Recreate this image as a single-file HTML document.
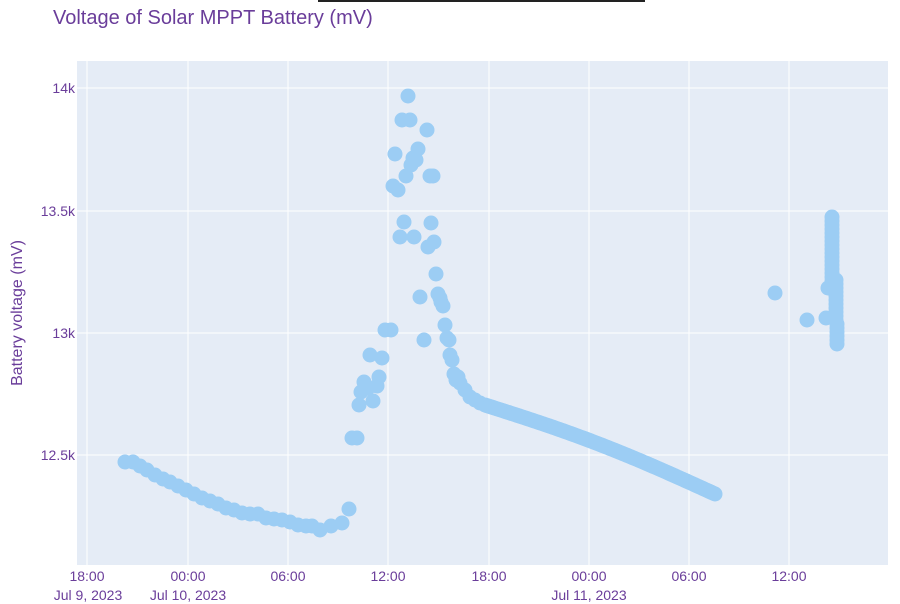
<!DOCTYPE html>
<html><head><meta charset="utf-8"><style>
body{margin:0;background:#fff;width:900px;height:604px;overflow:hidden;font-family:"Liberation Sans",sans-serif}
</style></head><body>
<svg id="s" width="900" height="604" xmlns="http://www.w3.org/2000/svg" style="position:absolute;left:0;top:0">
<rect x="318" y="0" width="327" height="2" fill="#222"/>
<text x="53" y="24" font-size="20" fill="#6a3d9a" font-family="Liberation Sans, sans-serif">Voltage of Solar MPPT Battery (mV)</text>
<rect x="77" y="61" width="811" height="504" fill="#e5ecf6"/>
<g stroke="#fff" stroke-width="1">
<line x1="87" y1="61" x2="87" y2="565"/><line x1="188" y1="61" x2="188" y2="565"/><line x1="288" y1="61" x2="288" y2="565"/><line x1="388" y1="61" x2="388" y2="565"/><line x1="489" y1="61" x2="489" y2="565"/><line x1="589" y1="61" x2="589" y2="565"/><line x1="689" y1="61" x2="689" y2="565"/><line x1="789" y1="61" x2="789" y2="565"/>
<line x1="77" y1="88" x2="888" y2="88"/><line x1="77" y1="211" x2="888" y2="211"/><line x1="77" y1="333" x2="888" y2="333"/><line x1="77" y1="455" x2="888" y2="455"/>
</g>
<g font-size="14" fill="#6a3d9a" font-family="Liberation Sans, sans-serif" text-anchor="end">
<text x="75" y="93">14k</text><text x="75" y="216">13.5k</text><text x="75" y="338">13k</text><text x="75" y="460">12.5k</text>
</g>
<g font-size="14" fill="#6a3d9a" font-family="Liberation Sans, sans-serif" text-anchor="middle">
<text x="87" y="581">18:00</text><text x="188" y="581">00:00</text><text x="288" y="581">06:00</text><text x="388" y="581">12:00</text><text x="489" y="581">18:00</text><text x="589" y="581">00:00</text><text x="689" y="581">06:00</text><text x="789" y="581">12:00</text>
<text x="88" y="600">Jul 9, 2023</text><text x="188" y="600">Jul 10, 2023</text><text x="589" y="600">Jul 11, 2023</text>
</g>
<text transform="translate(22,313) rotate(-90)" font-size="16" fill="#6a3d9a" text-anchor="middle" font-family="Liberation Sans, sans-serif">Battery voltage (mV)</text>
<g id="pts" fill="#9ccdf4"></g>
</svg>
<script>
var p=[[125,462],[133,462],[140,466],[147,470],[155,475],[163,479],[170,482],[178,486],[186,490],[194,494],[202,498],[210,501],[218,504],[226,508],[234,510],[242,513],[250,514],[258,514],[266,518],[274,519],[282,520],[290,522],[298,525],[306,526],[312,526],[320,530],[331,526],[342,523],[349,509],
[352,438],[357,438],[359,405],[361,392],[364,382],[368,388],[370,355],[373,401],[377,386],[379,377],[382,358],[385,330],[391,330],[393,186],[395,154],[398,190],[400,237],[402,120],[404,222],[406,176],[408,96],[410,120],[411,165],[413,158],[414,237],[416,160],[418,149],[420,297],[424,340],[427,130],[428,247],[430,176],[431,223],[433,176],[434,242],[436,274],[438,294],[440,298],[441,302],[443,306],[445,325],[447,338],[449,340],[450,355],[452,360],[454,374],[456,380],[458,377],[460,383],[465,390],[470,397],[475,400],[480,403],
[775,293],[807,320],[826,318],[828,288]];
for(var x=485;x<=715;x+=2){var t=(x-485)/230;p.push([x,405+t*89-5*Math.sin(t*Math.PI)]);}
for(var y=217;y<=292;y+=4)p.push([832,y]);
for(var y=280;y<=344;y+=4)p.push([836+(y>320?1:0),y]);
var g=document.getElementById('pts'),h='';
p.forEach(function(q){h+='<circle cx="'+q[0]+'" cy="'+q[1]+'" r="7.5"/>';});
g.innerHTML=h;
</script>
</body></html>
